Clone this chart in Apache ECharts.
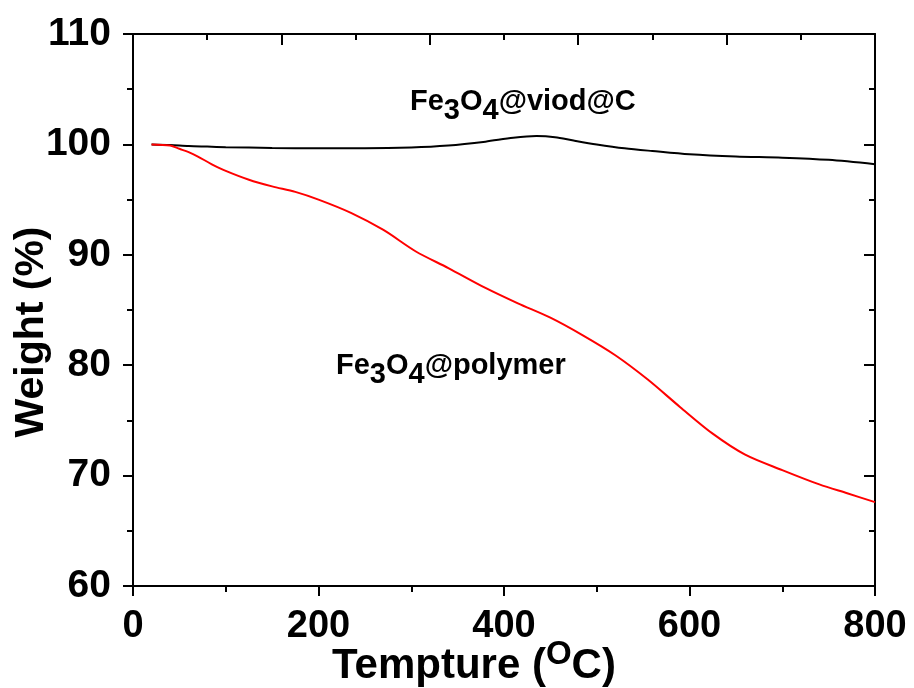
<!DOCTYPE html>
<html><head><meta charset="utf-8">
<script src="https://cdn.jsdelivr.net/npm/echarts@6/dist/echarts.min.js"></script>
<style>html,body{margin:0;padding:0;background:#fff}#c{width:914px;height:688px}</style>
</head><body><div id="c"></div>
<script>
// Fe3O4@viod@C (black)
const tempsBlack = [20, 40, 60, 80, 100, 150, 200, 250, 300, 340, 380, 410, 435, 455, 475, 500, 530, 560, 600, 650, 700, 750, 800];
const weightBlack = [100.0, 99.95, 99.85, 99.8, 99.75, 99.68, 99.65, 99.65, 99.72, 99.9, 100.25, 100.6, 100.75, 100.65, 100.35, 100.0, 99.65, 99.4, 99.1, 98.9, 98.8, 98.6, 98.2];
// Fe3O4@polymer (red)
const tempsRed = [20, 40, 50, 60, 70, 85, 100, 125, 150, 175, 200, 235, 270, 305, 340, 380, 415, 450, 485, 520, 555, 590, 625, 660, 700, 740, 770, 800];
const weightRed = [100.0, 99.9, 99.6, 99.3, 98.9, 98.2, 97.6, 96.8, 96.2, 95.7, 95.0, 93.8, 92.25, 90.3, 88.8, 87.0, 85.6, 84.3, 82.7, 80.9, 78.7, 76.2, 73.8, 71.9, 70.5, 69.2, 68.4, 67.6];

const xTicks = [0, 200, 400, 600, 800];
const yTicks = [60, 70, 80, 90, 100, 110];

const FONT = '"Liberation Sans", Arial, Helvetica, sans-serif';
const chart = echarts.init(document.getElementById('c'), null, {renderer: 'canvas'});

const lineCol = '#000';
const axisCommon = {
  axisLine: {onZero: false, lineStyle: {color: lineCol, width: 2}},
  splitLine: {show: false}
};

const option = {
  animation: false,
  backgroundColor: '#fff',
  grid: {left: 133, right: 39, top: 34, bottom: 102, containLabel: false, outerBoundsMode: 'none'},
  xAxis: [
    Object.assign({}, axisCommon, {
      type: 'value', position: 'bottom', min: xTicks[0], max: xTicks[xTicks.length - 1], interval: 200,
      axisTick: {show: true, inside: false, length: 10, lineStyle: {color: lineCol, width: 2}},
      minorTick: {show: true, splitNumber: 2, length: 6, lineStyle: {color: lineCol, width: 2}},
      axisLabel: {show: true, fontSize: 38, fontWeight: 'bold', color: '#000', fontFamily: FONT, margin: 22},
      name: '{a|Tempture (}{sup|O}{a|C)}',
      nameLocation: 'middle', nameGap: 52, nameMoveOverlap: false,
      nameTextStyle: {
        fontSize: 42, fontWeight: 'bold', color: '#000', fontFamily: FONT,
        padding: [0, 60, 0, 0],
        rich: {
          a: {fontSize: 42, fontWeight: 'bold', color: '#000', fontFamily: FONT},
          sup: {fontSize: 33, fontWeight: 'bold', color: '#000', fontFamily: FONT, padding: [0, 0, 24, 0]}
        }
      }
    }),
    Object.assign({}, axisCommon, {
      type: 'value', position: 'top', min: 0, max: 800, interval: 160,
      axisTick: {show: true, inside: true, length: 11, lineStyle: {color: lineCol, width: 2}},
      minorTick: {show: true, splitNumber: 2, length: 6, lineStyle: {color: lineCol, width: 2}},
      axisLabel: {show: false}
    })
  ],
  yAxis: [
    Object.assign({}, axisCommon, {
      type: 'value', position: 'left', min: yTicks[0], max: yTicks[yTicks.length - 1], interval: 10,
      axisTick: {show: true, inside: false, length: 10, lineStyle: {color: lineCol, width: 2}},
      minorTick: {show: true, splitNumber: 2, length: 6, lineStyle: {color: lineCol, width: 2}},
      axisLabel: {show: true, fontSize: 39, fontWeight: 'bold', color: '#000', fontFamily: FONT, margin: 22},
      name: 'Weight (%)', nameLocation: 'middle', nameGap: 81, nameRotate: 90, nameMoveOverlap: false,
      nameTextStyle: {fontSize: 41, fontWeight: 'bold', color: '#000', fontFamily: FONT, padding: [0, 44, 0, 0]}
    }),
    Object.assign({}, axisCommon, {
      type: 'value', position: 'right', min: 60, max: 110, interval: 10,
      axisTick: {show: true, inside: true, length: 11, lineStyle: {color: lineCol, width: 2}},
      minorTick: {show: true, splitNumber: 2, length: 6, lineStyle: {color: lineCol, width: 2}},
      axisLabel: {show: false}
    })
  ],
  series: [
    {
      name: 'Fe3O4@viod@C', type: 'line', xAxisIndex: 0, yAxisIndex: 0,
      data: tempsBlack.map((t, i) => [t, weightBlack[i]]),
      showSymbol: false, smooth: 0.3, lineStyle: {color: '#000', width: 2}, z: 3
    },
    {
      name: 'Fe3O4@polymer', type: 'line', xAxisIndex: 0, yAxisIndex: 0,
      data: tempsRed.map((t, i) => [t, weightRed[i]]),
      showSymbol: false, smooth: 0.3, lineStyle: {color: '#ff0000', width: 2}, z: 3
    }
  ],
  graphic: [
    {
      type: 'text', x: 410, y: 102,
      style: {
        text: '{n|Fe}{s|3}{n|O}{s|4}{n|@viod@C}',
        verticalAlign: 'middle', align: 'left',
        rich: {
          n: {fontSize: 29, fontWeight: 'bold', fill: '#000', fontFamily: FONT},
          s: {fontSize: 29, fontWeight: 'bold', fill: '#000', fontFamily: FONT, padding: [18, 0, 0, 0]}
        }
      }
    },
    {
      type: 'text', x: 336, y: 366,
      style: {
        text: '{n|Fe}{s|3}{n|O}{s|4}{n|@polymer}',
        verticalAlign: 'middle', align: 'left',
        rich: {
          n: {fontSize: 29, fontWeight: 'bold', fill: '#000', fontFamily: FONT},
          s: {fontSize: 29, fontWeight: 'bold', fill: '#000', fontFamily: FONT, padding: [18, 0, 0, 0]}
        }
      }
    }
  ]
};
chart.setOption(option);
</script>
</body></html>
